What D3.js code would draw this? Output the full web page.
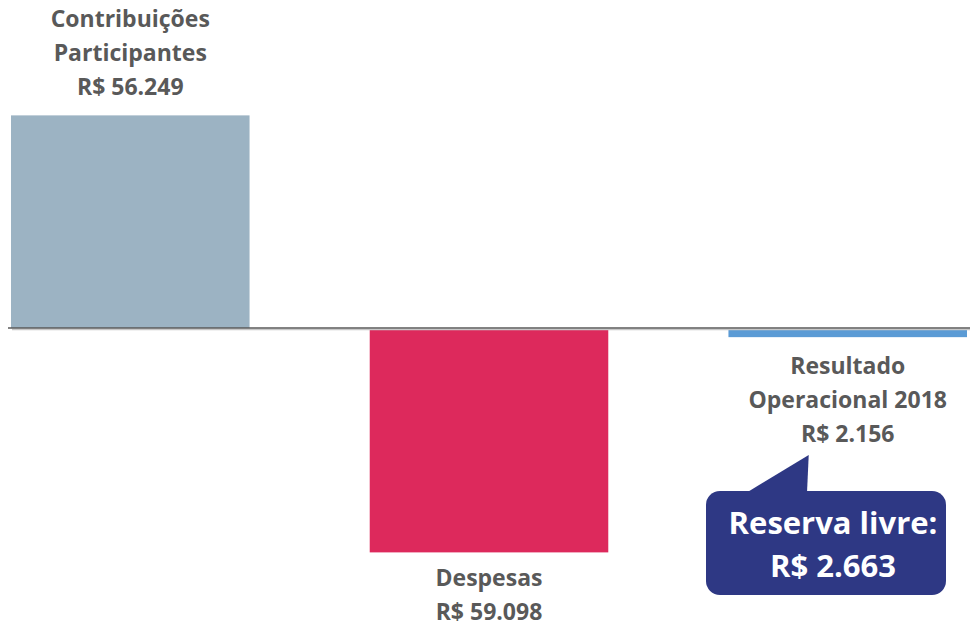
<!DOCTYPE html>
<html>
<head>
<meta charset="utf-8">
<script src="https://cdn.jsdelivr.net/npm/d3@7"></script>
<style>
  body { margin: 0; background: #fff; }
  svg text { font-family: "Open Sans", Lato, sans-serif; font-weight: bold; }
</style>
</head>
<body>
<div id="chart"></div>
<script>
// Data (R$ mil)
const categories = ["Contribuições Participantes", "Despesas", "Resultado Operacional 2018"];
const values = [56.249, -59.098, -2.156];
const displayValues = ["56.249", "59.098", "2.156"];
const labelLines = [["Contribuições", "Participantes"], ["Despesas"], ["Resultado", "Operacional 2018"]];
const colors = ["#9cb3c3", "#dd295c", "#5b9bd5"];
const reserveTitle = "Reserva livre:";
const reserveValue = "2.663";

const width = 970, height = 628;

const svg = d3.select("#chart")
    .append("svg")
    .attr("width", width)
    .attr("height", height);

// Scales
const x = d3.scaleBand()
    .domain(categories)
    .range([11, 967])
    .paddingInner(0.335)
    .paddingOuter(0);

const y = d3.scaleLinear()
    .domain([-70, 70])
    .range([328 + 264.6, 328 - 264.6]);

// Bars
svg.selectAll(".bar")
    .data(categories)
    .enter()
    .append("rect")
    .attr("class", "bar")
    .attr("x", d => x(d))
    .attr("y", (d, i) => values[i] >= 0 ? y(values[i]) : y(0) + 1)
    .attr("width", x.bandwidth())
    .attr("height", (d, i) => Math.abs(y(values[i]) - y(0)))
    .attr("fill", (d, i) => colors[i]);

// Zero line with soft shadow
svg.append("line")
    .attr("x1", 12).attr("x2", width)
    .attr("y1", y(0) + 1.5).attr("y2", y(0) + 1.5)
    .attr("stroke", "#c8c8c8")
    .attr("stroke-width", 1.5);
svg.append("line")
    .attr("x1", 8).attr("x2", width)
    .attr("y1", y(0)).attr("y2", y(0))
    .attr("stroke", "#5a5a5a")
    .attr("stroke-width", 1.5);

// Category labels
const lineH = 34;
categories.forEach((c, i) => {
    const lines = labelLines[i].concat(["R$ " + displayValues[i]]);
    const cx = x(c) + x.bandwidth() / 2;
    let firstBase;
    if (values[i] >= 0) {
        firstBase = y(values[i]) - 20 - (lines.length - 1) * lineH;
    } else {
        firstBase = y(values[i]) + 38;
    }
    if (i === 1) firstBase -= 3;
    const t = svg.append("text")
        .attr("text-anchor", "middle")
        .attr("fill", "#595959")
        .style("font-size", "23px");
    lines.forEach((l, k) => {
        t.append("tspan")
            .attr("x", cx)
            .attr("y", firstBase + k * lineH)
            .text(l);
    });
});

// Callout box
const bx = 706, by = 491, bw = 240, bh = 104;
const callout = svg.append("g");
callout.append("path")
    .attr("d", `M${bx + 40},${by + 2} L${x(categories[2]) + x.bandwidth() / 2 - 39},455 L${bx + 101},${by + 2} Z`)
    .attr("fill", "#2e3884");
callout.append("rect")
    .attr("x", bx).attr("y", by)
    .attr("width", bw).attr("height", bh)
    .attr("rx", 14)
    .attr("fill", "#2e3884");
callout.append("text")
    .attr("x", bx + bw / 2 + 7)
    .attr("y", by + 43)
    .attr("text-anchor", "middle")
    .attr("fill", "#fff")
    .style("font-size", "31px")
    .text(reserveTitle);
callout.append("text")
    .attr("x", bx + bw / 2 + 7)
    .attr("y", by + 86)
    .attr("text-anchor", "middle")
    .attr("fill", "#fff")
    .style("font-size", "31px")
    .text("R$ " + reserveValue);
</script>
</body>
</html>
